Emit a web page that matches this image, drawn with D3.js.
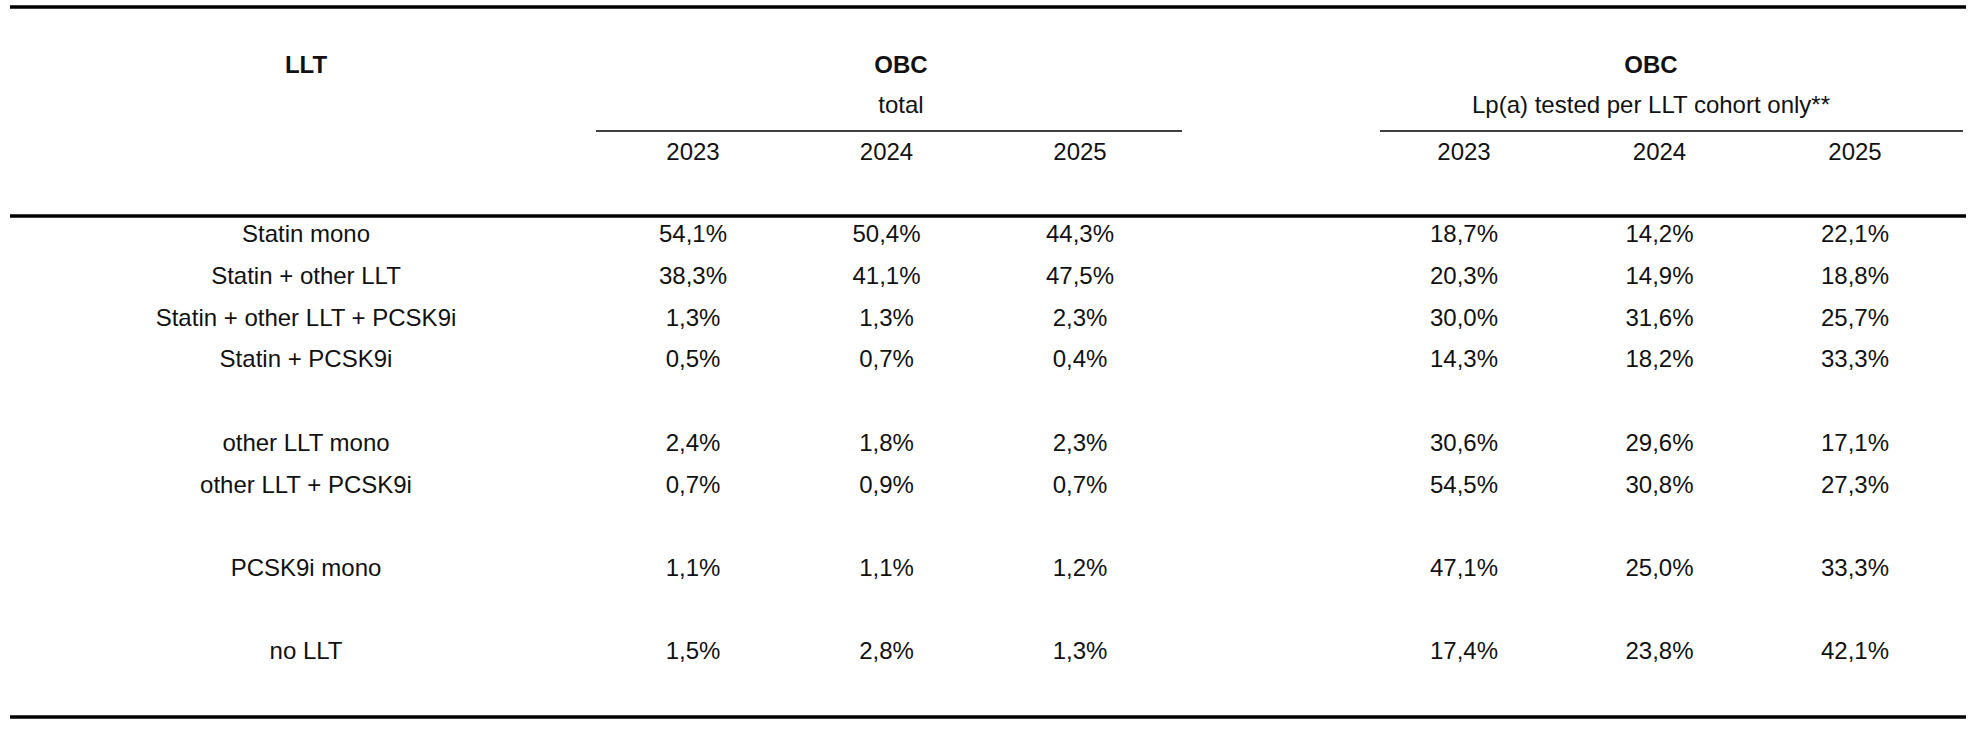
<!DOCTYPE html>
<html><head><meta charset="utf-8">
<script src="https://cdn.jsdelivr.net/npm/d3@7"></script>
<style>body{margin:0;background:#fff}text{font-family:"Liberation Sans",Arial,sans-serif;fill:#111}</style>
</head><body><svg id="t" width="1976" height="738"></svg>
<script>
// table contents
const categories = ["Statin mono", "Statin + other LLT", "Statin + other LLT + PCSK9i", "Statin + PCSK9i",
  "other LLT mono", "other LLT + PCSK9i", "PCSK9i mono", "no LLT"];
const years = ["2023", "2024", "2025"];
const obcTotal = [
  ["54,1%", "50,4%", "44,3%"], ["38,3%", "41,1%", "47,5%"], ["1,3%", "1,3%", "2,3%"], ["0,5%", "0,7%", "0,4%"],
  ["2,4%", "1,8%", "2,3%"], ["0,7%", "0,9%", "0,7%"], ["1,1%", "1,1%", "1,2%"], ["1,5%", "2,8%", "1,3%"]];
const obcTested = [
  ["18,7%", "14,2%", "22,1%"], ["20,3%", "14,9%", "18,8%"], ["30,0%", "31,6%", "25,7%"], ["14,3%", "18,2%", "33,3%"],
  ["30,6%", "29,6%", "17,1%"], ["54,5%", "30,8%", "27,3%"], ["47,1%", "25,0%", "33,3%"], ["17,4%", "23,8%", "42,1%"]];
// row slots (gaps between groups)
const rowSlot = [0, 1, 2, 3, 5, 6, 8, 10];

const svg = d3.select("#t");
const y = d3.scaleLinear().domain([0, 10]).range([236, 653]);
const xL = d3.scalePoint().domain(years).range([693, 1080]);
const xR = d3.scalePoint().domain(years).range([1464, 1855]);
const fs = 24;

const txt = (x, yy, s, bold) => svg.append("text").attr("x", x).attr("y", yy)
  .attr("text-anchor", "middle").attr("dominant-baseline", "middle")
  .attr("font-size", fs).attr("font-weight", bold ? "bold" : null).text(s);
const line = (x1, x2, yy, w) => svg.append("line").attr("x1", x1).attr("x2", x2)
  .attr("y1", yy).attr("y2", yy).attr("stroke", "#000").attr("stroke-width", w);

line(10, 1966, 7, 3.5);
line(10, 1966, 216, 3.5);
line(10, 1966, 717, 3.5);

txt(306, 67, "LLT", true);
txt(901, 67, "OBC", true);
txt(901, 107, "total");
line(596, 1182, 131, 1.3);
txt(1651, 67, "OBC", true);
txt(1651, 107, "Lp(a) tested per LLT cohort only**");
line(1380, 1963, 131, 1.3);
years.forEach(yr => { txt(xL(yr), 154, yr); txt(xR(yr), 154, yr); });

categories.forEach((c, i) => {
  const yy = y(rowSlot[i]);
  txt(306, yy, c);
  years.forEach((yr, j) => {
    txt(xL(yr), yy, obcTotal[i][j]);
    txt(xR(yr), yy, obcTested[i][j]);
  });
});
</script></body></html>
